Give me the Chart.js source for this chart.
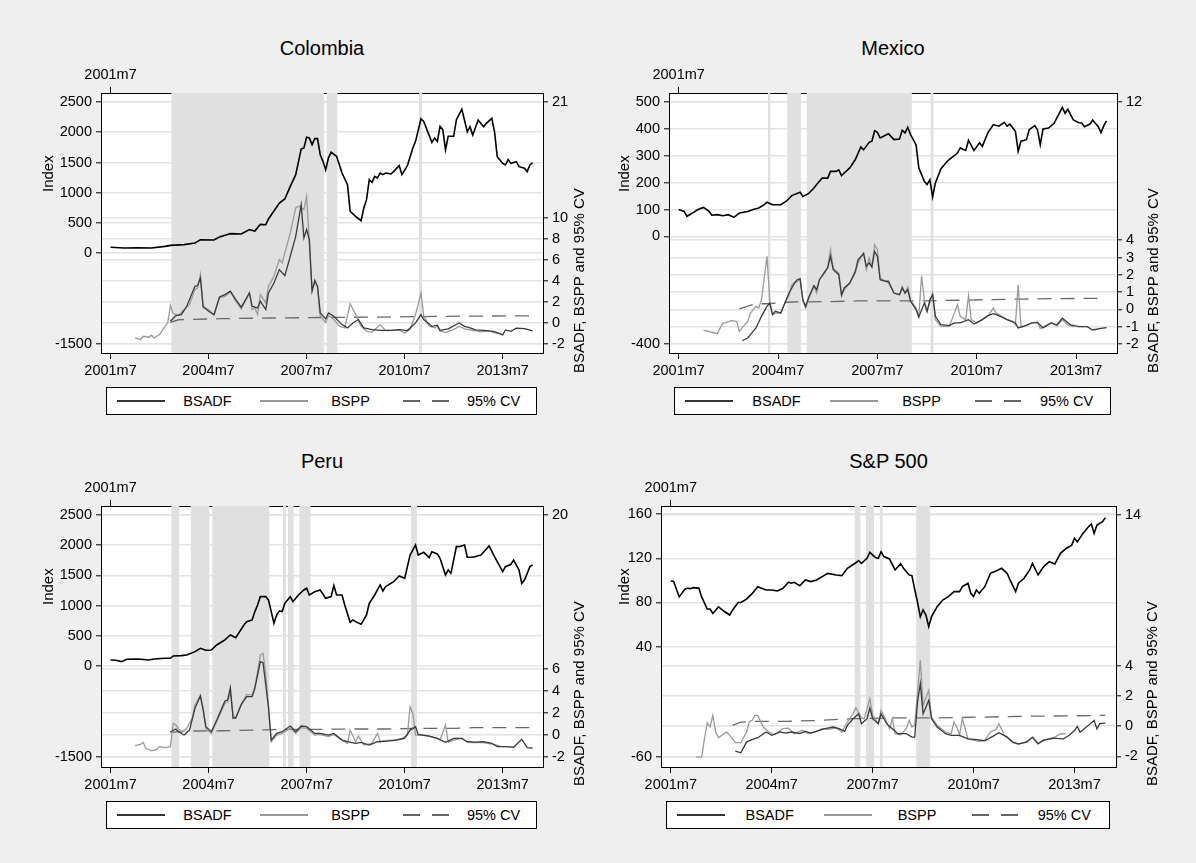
<!DOCTYPE html>
<html>
<head>
<meta charset="utf-8">
<script src="https://cdn.jsdelivr.net/npm/chart.js@4.4.1/dist/chart.umd.min.js"></script>
<style>
  body { margin: 0; background: #efefef; font-family: "Liberation Sans", Arial, Helvetica, sans-serif; }
  #page { position: relative; width: 1196px; height: 863px; overflow: hidden; }
  canvas { position: absolute; }
  .ttl { position: absolute; font-size: 20px; transform: translate(-50%, -50%); white-space: nowrap; }
  .ytl { position: absolute; font-size: 15px; font-weight: 400; color: #000; line-height: 17px;
         transform-origin: 0 0; transform: rotate(-90deg); white-space: nowrap; }
  .legend { position: absolute; box-sizing: border-box; border: 1px solid #000; background: #fff;
            display: flex; align-items: center; font-size: 14.5px; }
  .legend .item { flex: 1; display: flex; align-items: center; }
  .legend .key { flex: none; width: 48px; height: 1.5px; margin-left: 10px; }
  .legend .lab { flex: 1; text-align: center; }
  .k0 { background: #333; }
  .k1 { background: #999; }
  .k2 { background: repeating-linear-gradient(90deg, #666 0 17px, transparent 17px 29px); }
</style>
</head>
<body>
<div id="page"></div>
<script>
// months counted from 2001m7 = 0
const xTickMonths = [0, 36, 72, 108, 144];
const xTickLabels = ["2001m7", "2004m7", "2007m7", "2010m7", "2013m7"];
const topTickMonths = [0];
const topTickLabels = ["2001m7"];
const seriesNames = ["BSADF", "BSPP", "95% CV"];

// ---- Colombia ----
const colombiaLeftTicks = [2500, 2000, 1500, 1000, 500, 0, -1500];
const colombiaRightTicks = [21, 10, 8, 6, 4, 2, 0, -2];
const colombiaBands = [[22.3, 78.4], [79.3, 83.4], [113.3, 114.4]];
const colombiaIndex = [[0,100],[5,87],[10,92],[15,87],[20,114],[22,130],[27,142],[31,169],[33,224],[38,219],[40,268],[44,324],[48,318],[51,390],[53,367],[55,478],[57,472],[58,566],[62,830],[64,897],[66,1106],[68,1299],[70,1723],[71,1740],[72,1916],[73,1905],[74,1795],[75,1894],[76,1894],[77,1629],[78,1519],[79,1381],[80,1574],[81,1668],[83,1602],[85,1326],[87,1134],[88,693],[90,610],[92,538],[93,748],[94,886],[95,1216],[96,1172],[97,1271],[98,1244],[99,1326],[100,1299],[101,1326],[103,1310],[104,1354],[106,1448],[107,1299],[109,1448],[111,1740],[112,1850],[114,2224],[115,2180],[118,1833],[119,1905],[120,1850],[121,2098],[122,2043],[123,1712],[124,1933],[126,1933],[127,2208],[129,2380],[131,2009],[132,2092],[133,1955],[135,2202],[137,2092],[138,2147],[140,2230],[141,2009],[142,1596],[144,1486],[145,1459],[146,1550],[147,1486],[149,1514],[150,1431],[152,1404],[153,1349],[154,1459],[155,1496]];
const colombiaBSADF = [[22,0.16],[24,0.7],[26,0.79],[28,1.58],[31,3.48],[32,3.55],[33,4.28],[34,1.58],[36,1.11],[38,0.79],[40,2.47],[42,2.69],[44,3.01],[46,2.22],[48,1.49],[51,2.85],[52,1.58],[54,1.42],[55,2.06],[57,1.27],[58,2.85],[60,3.8],[62,5.07],[64,4.5],[66,6.33],[68,8.23],[70,11.24],[71,8.08],[72,8.87],[73,7.92],[74,3.01],[75,4.05],[76,3.48],[77,0.95],[79,0.38],[80,0.95],[82,0.63],[85,-0.16],[87,-0.47],[89,0],[91,0.32],[93,-0.47],[96,-0.63],[99,-0.7],[103,-0.7],[106,-0.63],[109,-0.73],[112,0],[114,0.79],[115,0.32],[118,-0.32],[120,-0.22],[121,-0.7],[124,-0.57],[128,0],[130,-0.32],[132,-0.47],[134,-0.67],[137,-0.7],[141,-0.83],[144,-1.14],[145,-0.67],[147,-0.8],[149,-0.51],[152,-0.55],[155,-0.76]];
const colombiaBSPP = [[9,-1.43],[11,-1.58],[12,-1.27],[14,-1.36],[15,-1.17],[16,-1.43],[18,-1.11],[20,-0.32],[21,0],[22,1.68],[23,0.89],[25,0.7],[27,1.27],[29,1.74],[31,3.17],[32,3.33],[33,4.59],[34,1.42],[36,1.27],[38,0.7],[40,2.38],[42,2.53],[44,2.94],[46,2.06],[48,1.33],[51,2.85],[52,1.27],[53,1.42],[54,0.79],[55,2.69],[57,1.9],[58,3.48],[60,4.43],[62,6.02],[63,5.7],[66,8.55],[68,10.93],[69,11.09],[71,10.77],[72,12.04],[74,3.17],[75,3.8],[76,3.48],[77,0.63],[79,0.06],[80,0.7],[82,0.32],[84,-0.32],[86,-0.47],[88,1.84],[90,0.79],[92,-0.32],[94,-0.79],[96,-0.89],[99,-0.16],[101,-0.73],[104,-0.7],[106,-0.7],[108,-0.95],[110,-0.63],[112,0.79],[114,2.85],[115,0.7],[117,-0.32],[119,-0.47],[120,-0.32],[121,-0.79],[123,-0.89],[126,-0.63],[128,-0.32],[130,-0.57],[133,-0.7],[136,-0.85],[139,-0.75],[141,-0.95],[143,-1.0]];
const colombiaCV = [[22,0.06],[25,0.3],[30,0.34],[40,0.4],[60,0.47],[80,0.52],[100,0.56],[120,0.62],[140,0.66],[155,0.68]];

// ---- Mexico ----
const mexicoLeftTicks = [500, 400, 300, 200, 100, 0, -400];
const mexicoRightTicks = [12, 4, 3, 2, 1, 0, -1, -2];
const mexicoBands = [[32.3, 33.3], [39.3, 44.3], [46.3, 84.5], [91.2, 92.4]];
const mexicoIndex = [[0,100],[2,93],[3,75],[5,87],[7,100],[9,108],[11,93],[12,79],[14,81],[16,77],[18,81],[20,71],[22,87],[25,93],[27,100],[29,106],[31,118],[32,127],[34,118],[37,118],[39,131],[41,152],[44,164],[45,149],[47,159],[49,180],[50,193],[52,217],[54,217],[55,242],[57,242],[58,248],[59,226],[60,236],[62,255],[64,286],[66,333],[67,322],[69,350],[70,354],[71,393],[72,387],[73,366],[76,382],[78,360],[80,362],[81,395],[82,385],[83,406],[84,379],[86,341],[87,255],[89,205],[90,193],[91,211],[92,147],[93,199],[95,251],[97,276],[98,286],[101,310],[102,329],[104,320],[105,357],[107,320],[109,348],[110,335],[112,385],[114,416],[116,410],[118,424],[119,410],[120,418],[122,391],[123,317],[124,354],[126,360],[127,397],[129,412],[130,397],[131,341],[132,400],[134,403],[136,421],[139,480],[140,458],[141,473],[143,433],[145,423],[146,422],[147,408],[149,418],[150,433],[152,408],[153,386],[154,411],[155,430]];
const mexicoBSADF = [[23,-1.81],[25,-1.65],[26,-1.46],[28,-1.07],[30,-0.4],[32,0.18],[33,0.37],[34,-0.3],[35,-0.11],[37,-0.21],[38,0.18],[40,0.95],[42,1.53],[43,1.72],[44,1.78],[45,0.56],[46,0.18],[47,0.66],[49,1.38],[50,1.14],[51,1.72],[53,2.2],[54,2.4],[55,3.07],[56,2.3],[58,2.01],[59,0.85],[60,1.24],[62,1.53],[64,2.2],[65,2.88],[67,3.23],[68,2.49],[69,2.69],[70,2.45],[71,3.36],[72,3.07],[73,1.72],[75,1.63],[76,1.63],[78,0.95],[80,0.85],[81,1.24],[82,0.95],[83,1.14],[84,0.47],[86,-0.01],[87,-0.44],[89,0.37],[90,-0.11],[91,0.56],[92,0.85],[93,-0.4],[95,-0.88],[98,-0.94],[100,-0.78],[102,-0.78],[105,-0.59],[107,-0.84],[110,-0.59],[112,-0.36],[114,-0.24],[116,-0.36],[119,-0.59],[122,-0.78],[123,-1.07],[125,-0.98],[128,-0.78],[130,-0.75],[132,-1.07],[135,-0.78],[137,-0.9],[139,-0.51],[142,-0.9],[145,-1.0],[148,-1.0],[150,-1.19],[153,-1.1],[155,-1.05]];
const mexicoBSPP = [[9,-1.21],[11,-1.27],[12,-1.32],[14,-1.4],[16,-0.78],[17,-0.78],[19,-0.65],[21,-0.69],[22,-1.27],[23,-1.07],[25,-0.69],[26,-0.21],[28,0.18],[29,0.08],[30,0.56],[32,3.07],[33,0.56],[34,-0.3],[35,-0.21],[37,-0.21],[38,0.18],[40,0.85],[41,1.43],[42,1.53],[44,1.72],[45,0.47],[46,0.08],[47,0.56],[49,1.34],[50,0.95],[51,1.72],[53,2.11],[54,2.49],[55,3.46],[56,2.4],[58,2.11],[59,0.76],[60,1.14],[62,1.53],[64,2.11],[65,2.69],[67,3.27],[68,2.3],[69,2.98],[70,2.49],[71,3.75],[72,3.46],[73,1.82],[75,1.63],[76,1.53],[78,0.95],[80,0.85],[81,1.34],[82,0.95],[83,1.3],[84,0.56],[86,0.08],[87,-0.4],[88,1.95],[89,0.56],[90,-0.11],[91,0.37],[92,0.95],[93,-0.59],[95,-0.98],[98,-0.98],[99,-0.59],[101,0.28],[102,-0.4],[104,-0.59],[105,0.8],[106,-0.59],[108,-0.78],[110,-0.59],[112,-0.4],[114,0.08],[115,-0.21],[117,-0.4],[119,-0.59],[121,-0.69],[122,-0.88],[123,1.43],[124,-0.98],[126,-0.92],[128,-0.78],[130,-0.75],[131,-1.11],[133,-0.92],[135,-0.75],[137,-0.95],[139,-0.6],[141,-0.9],[143,-1.0]];
const mexicoCV = [[22,0.03],[28,0.33],[32,0.33],[41,0.43],[53,0.45],[65,0.49],[84,0.49],[101,0.53],[113,0.57],[125,0.6],[135,0.62],[155,0.65]];

// ---- Peru ----
const peruLeftTicks = [2500, 2000, 1500, 1000, 500, 0, -1500];
const peruRightTicks = [20, 6, 4, 2, 0, -2];
const peruBands = [[22.3, 25.3], [29.4, 36.4], [37.3, 58.4], [63.3, 64.4], [65.1, 67.3], [69.3, 73.5], [110.3, 112.5]];
const peruIndex = [[0,101],[2,96],[4,73],[6,112],[10,117],[14,101],[16,117],[20,129],[22,129],[23,167],[26,173],[28,184],[31,239],[33,294],[35,261],[37,266],[39,349],[42,432],[44,515],[46,471],[47,542],[49,680],[50,735],[52,763],[53,901],[54,1011],[55,1149],[57,1149],[58,1094],[59,901],[60,708],[61,846],[62,912],[63,901],[64,1039],[66,1149],[67,1066],[68,1121],[69,1176],[71,1259],[72,1287],[73,1176],[75,1232],[77,1259],[79,1121],[81,1149],[82,1331],[83,1176],[85,1176],[86,1011],[88,724],[89,763],[90,735],[92,691],[94,846],[95,1039],[97,1176],[98,1259],[99,1342],[100,1243],[101,1314],[104,1397],[106,1491],[108,1452],[110,1838],[112,2004],[113,1838],[115,1882],[117,1794],[118,1893],[120,1855],[121,1783],[123,1507],[124,1590],[125,1535],[127,1976],[128,1976],[130,2004],[131,1800],[133,1800],[136,1838],[139,1987],[141,1810],[144,1562],[145,1645],[147,1684],[148,1755],[150,1590],[151,1369],[152,1424],[154,1645],[155,1673]];
const peruBSADF = [[22,0.27],[24,0.52],[25,0.27],[27,-0.03],[29,0.42],[31,2.4],[33,3.52],[34,2.25],[35,0.73],[37,0.27],[39,1.34],[42,3.07],[43,3.16],[44,4.28],[45,1.49],[46,1.55],[48,2.76],[50,3.46],[52,3.46],[53,4.22],[54,5.43],[55,6.65],[56,6.55],[58,2.5],[59,-0.49],[61,0.12],[63,0.27],[66,0.79],[68,0.27],[70,0.79],[72,0.73],[75,0.12],[77,0.12],[80,-0.03],[82,0.12],[85,-0.49],[87,-0.64],[90,-0.79],[92,-0.7],[95,-0.94],[98,-0.64],[102,-0.58],[105,-0.49],[108,-0.33],[110,0.42],[112,0.73],[113,0.03],[117,-0.12],[120,-0.33],[123,-0.7],[126,-0.33],[129,-0.33],[131,-0.64],[134,-0.68],[137,-0.63],[140,-0.78],[142,-1.08],[145,-1.08],[148,-1.14],[151,-0.41],[153,-1.17],[155,-1.23]];
const peruBSPP = [[9,-1.0],[11,-0.88],[12,-0.7],[13,-1.24],[15,-1.46],[17,-1.34],[18,-1.09],[20,-1.18],[22,-1.09],[23,1.03],[24,0.88],[26,0.21],[28,0.58],[30,1.49],[31,2.7],[33,3.61],[34,2.4],[35,0.58],[37,0.12],[39,1.18],[42,2.85],[43,3.0],[44,3.91],[45,1.79],[46,1.49],[48,2.7],[50,3.67],[52,3.61],[53,4.37],[54,5.74],[55,7.25],[56,7.41],[57,5.5],[58,2.5],[59,-0.64],[61,-0.03],[63,0.12],[66,0.58],[68,0.12],[70,0.64],[72,0.58],[75,-0.03],[77,0.03],[80,-0.18],[82,0.03],[85,-0.49],[87,-0.79],[88,0.42],[90,-0.64],[91,-0.12],[93,-0.94],[96,-0.79],[98,0.12],[99,-0.64],[102,-0.49],[104,-0.49],[107,-0.33],[109,-0.03],[110,2.55],[111,1.94],[112,-0.03],[114,-0.03],[117,-0.12],[120,-0.33],[121,-0.49],[123,0.88],[124,-0.7],[126,-0.49],[129,-0.33],[131,-0.7],[133,-0.73],[136,-0.7],[139,-0.8],[141,-0.9],[143,-1.05]];
const peruCV = [[22,0.21],[28,0.33],[41,0.36],[53,0.42],[65,0.49],[77,0.49],[90,0.52],[102,0.52],[114,0.58],[126,0.58],[133,0.64],[155,0.65]];

// ---- S&P 500 ----
const spLeftTicks = [160, 120, 80, 40, -60];
const spRightTicks = [14, 4, 2, 0, -2];
const spBands = [[65.5, 67.7], [69.6, 72.5], [74.5, 75.6], [87.5, 92.6]];
const spIndex = [[0,99.5],[1,99],[3,85],[5,92],[6,93],[7,92.5],[8,93.4],[10,93],[11,85],[13,74],[14,74],[15,70],[16,73],[17,76],[19,72],[21,68.6],[22,73],[24,80],[25,80],[27,83],[29,88],[31,94.3],[34,91.3],[36,91.3],[38,90.4],[40,92.8],[42,98.3],[43,97.4],[44,98.3],[46,95.2],[48,100.4],[50,98.9],[52,100.4],[54,103.4],[56,106.4],[59,104.9],[61,104.3],[63,111],[66,116],[67,118],[68,115.5],[70,120],[71,125.5],[73,120.7],[74,120],[75,126],[76,121.6],[78,119.5],[80,109.5],[82,115.2],[83,111],[85,105],[86,104.3],[87,92],[88,80],[89,67.1],[90,73.2],[91,68.6],[92,58],[93,67.1],[95,76.2],[97,82.2],[99,85.3],[101,89.8],[103,89.8],[104,94.3],[106,97.4],[107,88.3],[108,85.3],[109,91.3],[110,88.3],[112,94.3],[114,106.4],[116,108.6],[118,111],[120,106.4],[121,100.4],[123,89.8],[124,97.4],[126,101.9],[128,109.5],[129,115.5],[131,104.9],[133,112.5],[135,117],[137,115],[139,124.6],[141,129],[143,132],[144,138.2],[145,135],[147,142.7],[149,148.7],[150,151.2],[151,142.7],[152,150.3],[154,153.3],[155,157]];
const spBSADF = [[23,-1.65],[25,-1.76],[27,-1.05],[29,-0.89],[31,-0.76],[34,-0.38],[36,-0.6],[39,-0.38],[41,-0.45],[43,-0.38],[46,-0.49],[48,-0.34],[50,-0.45],[53,-0.27],[55,-0.16],[58,-0.05],[60,-0.16],[62,-0.34],[63,0.06],[65,0.5],[67,0.83],[68,0.17],[70,0.5],[71,1.21],[72,0.5],[74,0.17],[75,0.83],[77,0.17],[79,-0.16],[81,-0.49],[84,-0.49],[86,-0.72],[87,-0.72],[88,1.61],[89,2.83],[90,0.83],[92,1.72],[93,0.5],[95,-0.05],[98,-0.49],[100,-0.6],[103,-0.6],[106,-0.83],[109,-0.89],[112,-0.96],[115,-0.65],[117,-0.43],[120,-0.72],[122,-1.05],[124,-1.16],[127,-1.05],[129,-0.72],[131,-1.16],[133,-0.94],[136,-0.78],[140,-0.83],[142,-0.61],[144,-0.28],[145,-0.01],[146,-0.39],[149,0.06],[151,0.39],[152,-0.17],[153,0.17],[155,0.21]];
const spBSPP = [[9,-2.04],[11,-2.04],[12,-0.83],[13,0.24],[14,-0.05],[15,0.72],[16,-0.38],[17,-0.76],[19,-0.49],[20,-0.38],[21,-0.6],[23,-1.09],[25,-1.09],[27,-0.38],[28,0.28],[29,0.39],[30,0.72],[31,0.72],[33,-0.05],[35,-0.38],[37,-0.56],[40,-0.16],[42,-0.12],[44,-0.49],[47,-0.27],[49,-0.49],[52,-0.34],[54,-0.16],[56,-0.21],[59,-0.12],[61,-0.38],[63,0.28],[65,0.83],[66,1.23],[68,0.55],[69,0.5],[71,1.83],[72,0.72],[74,0.17],[75,1.05],[77,0.28],[78,-0.16],[79,0.5],[80,-0.49],[82,-0.56],[84,-0.16],[85,0.39],[86,-0.05],[87,0.06],[89,4.37],[90,1.39],[92,2.38],[93,0.61],[95,0.06],[98,-0.38],[100,-0.49],[101,0.28],[102,-0.05],[103,-0.56],[104,0.5],[106,-0.83],[107,-0.89],[110,-1.0],[112,-0.94],[114,-0.38],[116,-0.21],[117,0.17],[119,-0.6],[122,-1.09],[124,-1.2],[126,-1.09],[129,-0.76],[131,-1.16],[133,-0.89],[136,-0.83],[139,-0.49],[141,-0.5]];
const spCV = [[22,0.06],[25,0.28],[29,0.32],[41,0.32],[53,0.39],[65,0.5],[77,0.55],[88,0.55],[100,0.57],[112,0.61],[124,0.66],[136,0.68],[155,0.72]];

// layout of the four panels (page pixels of each plot region)
const panels = [
  { title: "Colombia", area: { l: 101, r: 543, t: 93, b: 353 }, indexX: 47,
    leftRange: [-1648.8, 2648.8], rightRange: [-2.86, 21.86],
    leftTicks: colombiaLeftTicks, rightTicks: colombiaRightTicks,
    index: colombiaIndex, bsadf: colombiaBSADF, bspp: colombiaBSPP, cv: colombiaCV, bands: colombiaBands },
  { title: "Mexico", area: { l: 669, r: 1117, t: 93, b: 353 }, indexX: 623,
    leftRange: [-433.5, 533.5], rightRange: [-2.52, 12.52],
    leftTicks: mexicoLeftTicks, rightTicks: mexicoRightTicks,
    index: mexicoIndex, bsadf: mexicoBSADF, bspp: mexicoBSPP, cv: mexicoCV, bands: mexicoBands },
  { title: "Peru", area: { l: 101, r: 543, t: 506, b: 767 }, indexX: 47,
    leftRange: [-1670.5, 2648.9], rightRange: [-2.94, 20.82],
    leftTicks: peruLeftTicks, rightTicks: peruRightTicks,
    index: peruIndex, bsadf: peruBSADF, bspp: peruBSPP, cv: peruCV, bands: peruBands },
  { title: "S&P 500", area: { l: 661, r: 1116, t: 506, b: 767 }, indexX: 623,
    leftRange: [-69.35, 167.53], rightRange: [-2.70, 14.6],
    leftTicks: spLeftTicks, rightTicks: spRightTicks,
    index: spIndex, bsadf: spBSADF, bspp: spBSPP, cv: spCV, bands: spBands },
];

const X_MIN = -3.5, X_MAX = 158.8;
const LW = 70, RW = 45, TH = 30, BH = 32;
const FONT = "'Liberation Sans', Arial, Helvetica, sans-serif";
Chart.defaults.font.family = FONT;
Chart.defaults.color = "#000";

const page = document.getElementById("page");

const plotBg = {
  id: "plotBg",
  beforeDraw(chart) {
    const { ctx, chartArea: a } = chart;
    ctx.save();
    ctx.fillStyle = "#fff";
    ctx.fillRect(a.left, a.top, a.right - a.left, a.bottom - a.top);
    ctx.restore();
  },
};

const addTitle = (text, x, y) => {
  const d = document.createElement("div");
  d.className = "ttl";
  d.textContent = text;
  d.style.left = x + "px";
  d.style.top = y + "px";
  page.appendChild(d);
};

// rotated axis title, centred on (x, y) and kept on whole pixels
const addYTitle = (text, x, y) => {
  const d = document.createElement("div");
  d.className = "ytl";
  d.textContent = text;
  page.appendChild(d);
  const w = d.offsetWidth, h = d.offsetHeight;
  d.style.left = Math.round(x - h / 2) + "px";
  d.style.top = Math.round(y + w / 2) + "px";
};

const addLegend = (a) => {
  const box = document.createElement("div");
  box.className = "legend";
  box.style.left = a.l + 5 + "px";
  box.style.top = a.b + 34 + "px";
  box.style.width = a.r - a.l - 11 + "px";
  box.style.height = "28px";
  seriesNames.forEach((name, i) => {
    const it = document.createElement("div");
    it.className = "item";
    const key = document.createElement("span");
    key.className = "key k" + i;
    const lab = document.createElement("span");
    lab.className = "lab";
    lab.textContent = name;
    it.append(key, lab);
    box.appendChild(it);
  });
  page.appendChild(box);
};

const pts = (arr) => arr.map(([x, y]) => ({ x, y }));
const tickFont = { size: 14.5, family: FONT };

function drawPanel(p) {
  const a = p.area;
  const w = a.r - a.l + LW + RW;
  const h = a.b - a.t + TH + BH;
  const cv = document.createElement("canvas");
  cv.width = w;
  cv.height = h;
  cv.style.left = a.l - LW + "px";
  cv.style.top = a.t - TH + "px";
  cv.style.width = w + "px";
  cv.style.height = h + "px";
  page.appendChild(cv);

  const bandTop = p.leftRange[1];
  const bandPts = [];
  for (const [s, e] of p.bands) {
    bandPts.push({ x: s, y: bandTop }, { x: e, y: bandTop }, { x: e, y: null });
  }

  new Chart(cv, {
    type: "line",
    data: {
      datasets: [
        { data: pts(p.index), xAxisID: "x", yAxisID: "yL", borderColor: "#000", borderWidth: 1.6, order: 0 },
        { data: pts(p.bsadf), xAxisID: "x", yAxisID: "yR", borderColor: "#3a3a3a", borderWidth: 1.3, order: 1 },
        { data: pts(p.bspp), xAxisID: "x", yAxisID: "yR", borderColor: "#9a9a9a", borderWidth: 1.3, order: 2 },
        { data: pts(p.cv), xAxisID: "x", yAxisID: "yR", borderColor: "#6a6a6a", borderWidth: 1.3, borderDash: [14, 9], order: 3 },
        { data: bandPts, xAxisID: "x", yAxisID: "yL", borderWidth: 0, borderColor: "rgba(0,0,0,0)",
          backgroundColor: "#e0e0e0", fill: "start", spanGaps: false, order: 9 },
      ],
    },
    options: {
      responsive: false,
      animation: false,
      devicePixelRatio: 1,
      layout: { padding: 0 },
      elements: { point: { radius: 0 }, line: { tension: 0 } },
      plugins: { legend: { display: false }, tooltip: { enabled: false }, title: { display: false } },
      scales: {
        x: {
          type: "linear", position: "bottom", min: X_MIN, max: X_MAX,
          afterBuildTicks: (s) => { s.ticks = xTickMonths.map((v) => ({ value: v })); },
          afterFit: (s) => { s.height = BH; },
          ticks: { callback: (v, i) => xTickLabels[i], font: tickFont, color: "#000", padding: 3, maxRotation: 0, autoSkip: false },
          grid: { drawOnChartArea: false, tickLength: 6, tickColor: "#000", tickWidth: 1 },
          border: { display: true, color: "#000", width: 1 },
        },
        xTop: {
          type: "linear", position: "top", min: X_MIN, max: X_MAX,
          afterBuildTicks: (s) => { s.ticks = topTickMonths.map((v) => ({ value: v })); },
          afterFit: (s) => { s.height = TH; },
          ticks: { callback: (v, i) => topTickLabels[i], font: tickFont, color: "#000", padding: 3, maxRotation: 0, autoSkip: false },
          grid: { drawOnChartArea: false, tickLength: 6, tickColor: "#000", tickWidth: 1 },
          border: { display: true, color: "#000", width: 1 },
        },
        yL: {
          type: "linear", position: "left", min: p.leftRange[0], max: p.leftRange[1],
          afterBuildTicks: (s) => { s.ticks = p.leftTicks.map((v) => ({ value: v })); },
          afterFit: (s) => { s.width = LW; },
          ticks: { callback: (v) => String(v), font: tickFont, color: "#000", padding: 4, autoSkip: false },
          grid: { color: "#e4e4e4", lineWidth: 1.6, tickLength: 5, tickColor: "#000", tickWidth: 1 },
          border: { display: true, color: "#000", width: 1 },
        },
        yR: {
          type: "linear", position: "right", min: p.rightRange[0], max: p.rightRange[1],
          afterBuildTicks: (s) => { s.ticks = p.rightTicks.map((v) => ({ value: v })); },
          afterFit: (s) => { s.width = RW; },
          ticks: { callback: (v) => String(v), font: tickFont, color: "#000", padding: 4, autoSkip: false },
          grid: { color: "#e4e4e4", lineWidth: 1.6, tickLength: 5, tickColor: "#000", tickWidth: 1 },
          border: { display: true, color: "#000", width: 1 },
        },
      },
    },
    plugins: [plotBg],
  });

  addTitle(p.title, (a.l + a.r) / 2, a.t - 45);
  addYTitle("Index", p.indexX, a.t + 80);
  addYTitle("BSADF, BSPP and 95% CV", a.r + 35, a.t + 187);
  addLegend(a);
}

panels.forEach(drawPanel);
</script>
</body>
</html>
